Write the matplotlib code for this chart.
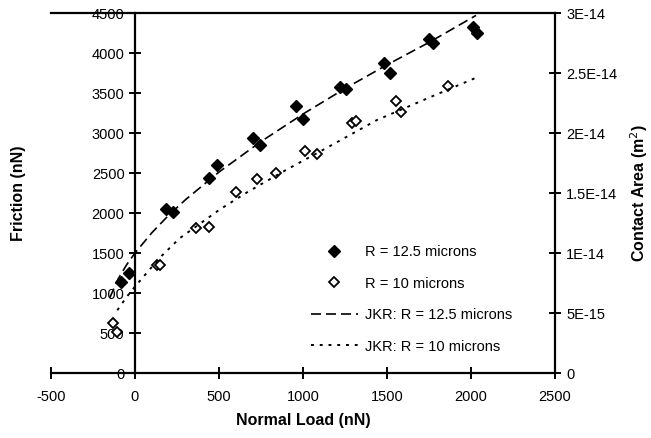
import matplotlib
matplotlib.use("Agg")
import matplotlib.pyplot as plt

plt.rcParams['font.family'] = ['Liberation Sans', 'DejaVu Sans']
plt.rcParams['axes.unicode_minus'] = False

# measured points, R = 12.5 microns (filled)
load_125 = [-85, -33, 182, 225, 443, 487, 705, 743, 960, 1000, 1222, 1259,
            1480, 1520, 1748, 1772, 2010, 2035]
fric_125 = [1140, 1245, 2045, 2015, 2440, 2600, 2935, 2850, 3340, 3175, 3580, 3550,
            3870, 3750, 4175, 4130, 4330, 4250]

# measured points, R = 10 microns (open)
load_10 = [-133, -108, 131, 151, 362, 441, 602, 725, 837, 1010, 1082, 1294, 1313,
           1555, 1582, 1862]
fric_10 = [620, 515, 1350, 1350, 1808, 1829, 2258, 2420, 2504, 2779, 2733, 3129, 3146,
           3404, 3266, 3588]

# JKR curves
jkr_load_125 = [-150, -100, -50, 0, 100, 200, 300, 500, 750, 1000, 1250, 1500, 1750, 2030]
jkr_fric_125 = [940, 1177, 1352, 1500, 1752, 1971, 2165, 2512, 2893, 3237, 3556, 3852, 4132, 4470]

jkr_load_10 = [-105, -50, 0, 147, 265, 500, 657, 892, 1147, 1441, 1774, 2029]
jkr_fric_10 = [785, 950, 1080, 1440, 1683, 2037, 2246, 2530, 2821, 3163, 3463, 3690]

area_ticks = [0, 5e-15, 1e-14, 1.5e-14, 2e-14, 2.5e-14, 3e-14]
area_labels = ["0", "5E-15", "1E-14", "1.5E-14", "2E-14", "2.5E-14", "3E-14"]

fig = plt.figure(figsize=(6.51, 4.38), dpi=100)
ax = fig.add_axes([0.0783, 0.1484, 0.7742, 0.8219])

ax.plot(load_125, fric_125, 'D', color='black', markersize=6.5, label='R = 12.5 microns')
ax.plot(load_10, fric_10, 'D', markerfacecolor='white', markeredgecolor='black',
        markeredgewidth=1.3, markersize=5.5, label='R = 10 microns')
ax.plot(jkr_load_125, jkr_fric_125, color='black', lw=1.2, linestyle=(0, (6, 3)),
        label='JKR: R = 12.5 microns')
ax.plot(jkr_load_10, jkr_fric_10, color='black', lw=1.4, linestyle=(0, (1.5, 3)),
        label='JKR: R = 10 microns')

ax.set_xlim(-500, 2500)
ax.set_ylim(0, 4500)
ax.set_xticks(range(-500, 2501, 500))
ax.set_yticks(range(0, 4501, 500))

ax.spines['left'].set_position(('data', 0))
for s in ['left', 'bottom', 'top']:
    ax.spines[s].set_linewidth(1.6)
ax.spines['right'].set_visible(False)
ax.tick_params(axis='both', direction='inout', length=8, width=1.4, labelsize=10.5)
ax.tick_params(axis='x', pad=8)

ax.set_xlabel('Normal Load (nN)', fontsize=11.5, fontweight='bold', labelpad=7)
ax.set_ylabel('Friction (nN)', fontsize=11.5, fontweight='bold')
ax.yaxis.set_label_coords(-0.05, 0.5)

ax2 = ax.twinx()
ax2.set_ylim(0, 3e-14)
ax2.set_yticks(area_ticks)
ax2.set_yticklabels(area_labels)
for s in ['left', 'bottom', 'top']:
    ax2.spines[s].set_visible(False)
ax2.spines['right'].set_linewidth(1.6)
ax2.tick_params(axis='y', direction='inout', length=8, width=1.4, labelsize=10.5, pad=4)
ax2.set_ylabel('Contact Area (m$^2$)', fontsize=11.5, fontweight='bold', labelpad=8)

leg = ax.legend(loc='upper left', bbox_to_anchor=(0.49, 0.392), frameon=False,
                fontsize=10.5, handlelength=3.2, labelspacing=1.2, handletextpad=0.5)

fig.savefig('out.png', dpi=100)
